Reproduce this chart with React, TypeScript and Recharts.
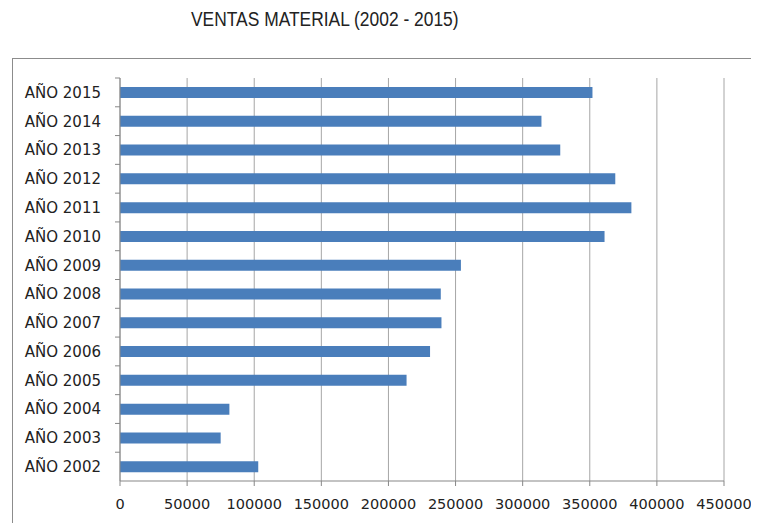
import React from 'react';
import { BarChart, Bar, XAxis, YAxis, CartesianGrid } from 'recharts';

const years = ['AÑO 2002', 'AÑO 2003', 'AÑO 2004', 'AÑO 2005', 'AÑO 2006', 'AÑO 2007', 'AÑO 2008',
  'AÑO 2009', 'AÑO 2010', 'AÑO 2011', 'AÑO 2012', 'AÑO 2013', 'AÑO 2014', 'AÑO 2015'];
const ventas = [103000, 75000, 81500, 213500, 231000, 239500, 239000,
  254000, 361000, 381000, 369000, 328000, 314000, 352000];
const xTicks = [0, 50000, 100000, 150000, 200000, 250000, 300000, 350000, 400000, 450000];

// top row in the chart is the latest year
const data = years.map((year, i) => ({ year, ventas: ventas[i] })).reverse();

const W = 759;
const H = 523;
const TOP = 78;
const XAXIS_H = 42;
const BAND = (H - TOP - XAXIS_H) / years.length;

const YearTick = (props: any) => {
  const { x, y, payload } = props;
  return (
    <g>
      <line x1={x + 14} x2={x + 19} y1={y - BAND / 2} y2={y - BAND / 2} stroke="#878787" />
      <text x={x} y={y} dy="0.36em" textAnchor="end" fill="#222" fontSize={15}
        fontFamily="'DejaVu Sans', sans-serif">
        {payload.value}
      </text>
    </g>
  );
};

export default function App() {
  return (
    <div style={{ position: 'relative', width: W, height: H, margin: '-8px 0 0 -8px', overflow: 'hidden', background: '#fff' }}>
      <div style={{ position: 'absolute', top: 8, left: 0, width: 650, textAlign: 'center' }}>
        <span style={{
          display: 'inline-block', transform: 'scaleX(0.87)', whiteSpace: 'nowrap',
          fontFamily: "'Liberation Sans', sans-serif", fontSize: 20, color: '#222',
        }}>
          VENTAS MATERIAL (2002 - 2015)
        </span>
      </div>
      <div style={{ position: 'absolute', left: 12, top: 58, width: 780, height: 500, border: '1px solid #8c8c8c' }} />
      <div style={{ position: 'absolute', left: 0, top: 0 }}>
        <BarChart width={W} height={H} data={data} layout="vertical"
          margin={{ top: TOP, right: 35, bottom: 0, left: 0 }} barSize={11}>
          <CartesianGrid horizontal={false} stroke="#a6a6a6" />
          <XAxis type="number" domain={[0, 450000]} ticks={xTicks} interval={0} height={XAXIS_H}
            tickSize={5} tickMargin={13} stroke="#878787"
            tick={{ fill: '#222', fontSize: 14.5, fontFamily: "'DejaVu Sans', sans-serif" }} />
          <YAxis type="category" dataKey="year" width={120} tickSize={5} tickMargin={14}
            tickLine={false} stroke="#878787" tick={<YearTick />} interval={0} />
          <Bar dataKey="ventas" fill="#4a7ebb" isAnimationActive={false} />
        </BarChart>
      </div>
    </div>
  );
}
